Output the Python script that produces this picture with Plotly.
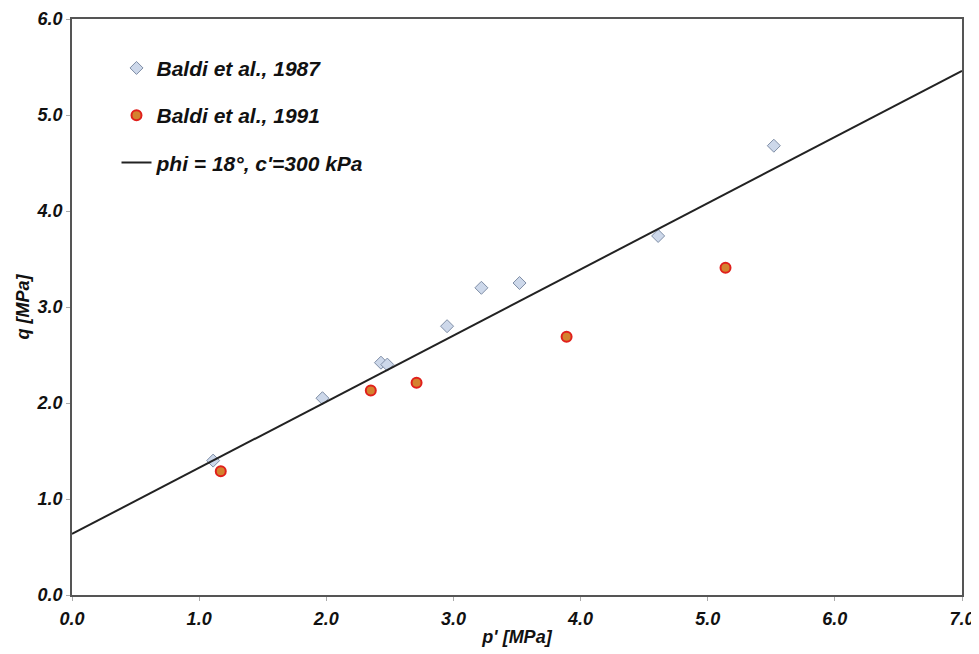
import plotly.graph_objects as go

p_1987 = [1.11, 1.97, 2.43, 2.48, 2.95, 3.22, 3.52, 4.61, 5.52]
q_1987 = [1.40, 2.05, 2.42, 2.40, 2.80, 3.20, 3.25, 3.74, 4.68]

p_1991 = [1.17, 2.35, 2.71, 3.89, 5.14]
q_1991 = [1.29, 2.13, 2.21, 2.69, 3.41]

p_line = [0.0, 7.0]
q_line = [0.636, 5.459]

tick_vals = [0, 1, 2, 3, 4, 5, 6, 7]
tick_text = ["0.0", "1.0", "2.0", "3.0", "4.0", "5.0", "6.0", "7.0"]

FONT = "Liberation Sans, Arial, sans-serif"
tick_font = dict(family=FONT, size=18, color="#111111", weight="bold", style="italic")
title_font = dict(family=FONT, size=18, color="#111111", weight="bold", style="italic")

fig = go.Figure()
fig.add_trace(go.Scatter(
    x=p_1987, y=q_1987, mode="markers", name="Baldi et al., 1987",
    legendgroup="a",
    marker=dict(symbol="diamond", size=10, color="#cdd8ea",
                line=dict(color="#7f8ea6", width=1))))
fig.add_trace(go.Scatter(
    x=p_1991, y=q_1991, mode="markers", name="Baldi et al., 1991",
    legendgroup="b",
    marker=dict(symbol="circle", size=10, color="#d4822e",
                line=dict(color="#e0201c", width=2))))
fig.add_trace(go.Scatter(
    x=p_line, y=q_line, mode="lines", name="phi = 18°, c'=300 kPa",
    legendgroup="c",
    line=dict(color="#222222", width=2)))

axis_common = dict(
    showgrid=False, zeroline=False, showline=True, linecolor="#555555",
    linewidth=1.5, mirror=True, ticks="outside", ticklen=4,
    tickcolor="#aaaaaa", tickfont=tick_font, automargin=False,
)

# page body adds an 8px offset; compensate in size/margins
fig.update_layout(
    width=971, height=646,
    margin=dict(l=64, r=17, t=11, b=59),
    plot_bgcolor="white", paper_bgcolor="white",
    showlegend=True,
    legend=dict(x=0.050, y=0.950, xanchor="left", yanchor="top",
                bgcolor="rgba(0,0,0,0)", tracegroupgap=17,
                font=dict(family=FONT, size=21, color="#111111",
                          weight="bold", style="italic"),
                itemwidth=30),
    xaxis=dict(range=[0, 7], tickvals=tick_vals, ticktext=tick_text,
               ticklabelstandoff=3,
               title=dict(text="p' [MPa]", font=title_font, standoff=2),
               **axis_common),
    yaxis=dict(range=[0, 6], tickvals=tick_vals[:7], ticktext=tick_text[:7],
               title=dict(text="q [MPa]", font=title_font, standoff=2),
               **axis_common),
)

fig.write_html("out.html")
